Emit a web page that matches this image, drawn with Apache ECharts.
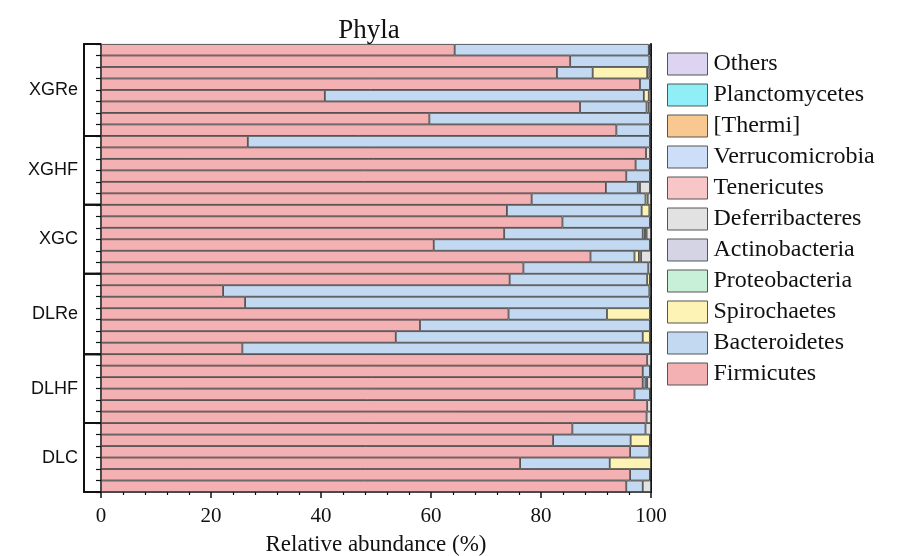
<!DOCTYPE html>
<html lang="en">
<head>
    <meta charset="UTF-8">
    <title>Phyla</title>
    <script src="https://cdn.jsdelivr.net/npm/echarts@6/dist/echarts.min.js"></script>
    <style>
        html, body { margin: 0; padding: 0; background: #fff; }
        #chart { width: 901px; height: 556px; }
    </style>
</head>
<body>
    <div id="chart"></div>
    <script>
        // sample groups, top to bottom
        var groups = ['XGRe', 'XGHF', 'XGC', 'DLRe', 'DLHF', 'DLC'];
        var groupSizes = [8, 6, 6, 7, 6, 6];

        // phyla, in stacking order (left to right)
        var phyla = ['Firmicutes', 'Bacteroidetes', 'Spirochaetes', 'Proteobacteria', 'Actinobacteria',
            'Deferribacteres', 'Tenericutes', 'Verrucomicrobia', '[Thermi]', 'Planctomycetes', 'Others'];
        var colors = ['#f3b1b3', '#c3d9f1', '#fdf3b4', '#c8f0d8', '#d4d4e4',
            '#e2e2e2', '#f8c6c6', '#cddff8', '#f8c890', '#90eef6', '#dcd4f0'];

        // relative abundance (%) per sample
        var firmicutes = [64.3, 85.3, 82.9, 98.0, 40.7, 87.1, 59.7, 93.7,
            26.7, 99.1, 97.2, 95.5, 91.8, 78.3,
            73.8, 83.9, 73.3, 60.5, 89.0, 76.8,
            74.3, 22.2, 26.2, 74.1, 58.0, 53.6, 25.7,
            99.3, 98.5, 98.5, 97.0, 99.3, 99.2,
            85.7, 82.2, 96.2, 76.2, 96.2, 95.5];
        var bacteroidetes = [35.3, 14.4, 6.5, 1.8, 58.0, 12.1, 40.1, 6.1,
            73.1, 0, 2.6, 4.3, 5.8, 20.7,
            24.5, 15.9, 25.2, 39.3, 8.0, 22.7,
            25.0, 77.5, 73.6, 17.9, 41.8, 44.9, 74.1,
            0, 1.3, 0.5, 2.8, 0, 0,
            13.3, 14.1, 3.5, 16.3, 3.6, 3.0];
        var spirochaetes = [0, 0, 9.9, 0, 0.9, 0.4, 0, 0,
            0, 0, 0, 0, 0, 0.4,
            1.4, 0, 0, 0, 0.8, 0,
            0.5, 0, 0, 7.8, 0, 1.3, 0,
            0, 0, 0, 0, 0, 0,
            0, 3.5, 0, 7.5, 0, 0];
        var proteobacteria = [0, 0, 0, 0, 0, 0, 0, 0,
            0, 0, 0, 0, 0, 0,
            0, 0, 0.4, 0, 0, 0,
            0, 0, 0, 0, 0, 0, 0,
            0, 0, 0, 0, 0, 0,
            0, 0, 0, 0, 0, 0];
        var actinobacteria = [0, 0, 0.4, 0, 0, 0, 0, 0,
            0, 0, 0, 0, 0.4, 0,
            0, 0, 0.3, 0, 0.4, 0.5,
            0, 0, 0, 0, 0, 0, 0,
            0, 0, 0.3, 0, 0, 0,
            0, 0, 0, 0, 0, 0];
        var deferribacteres = [0.2, 0.3, 0.3, 0.2, 0.4, 0.4, 0.2, 0.2,
            0.2, 0.7, 0.2, 0.2, 1.8, 0.6,
            0.3, 0.2, 0.8, 0.2, 1.8, 0,
            0.2, 0.3, 0.2, 0.2, 0.2, 0.2, 0.2,
            0.7, 0.2, 0.7, 0.2, 0.7, 0.8,
            1.0, 0.2, 0.3, 0, 0.2, 1.5];
        var tenericutes = new Array(39).fill(0);
        var verrucomicrobia = new Array(39).fill(0);
        var thermi = new Array(39).fill(0);
        var planctomycetes = new Array(39).fill(0);
        var others = [0.2, 0, 0, 0, 0, 0, 0, 0,
            0, 0.2, 0, 0, 0.2, 0,
            0, 0, 0, 0, 0, 0,
            0, 0, 0, 0, 0, 0, 0,
            0, 0, 0, 0, 0, 0,
            0, 0, 0, 0, 0, 0];
        var values = [firmicutes, bacteroidetes, spirochaetes, proteobacteria, actinobacteria,
            deferribacteres, tenericutes, verrucomicrobia, thermi, planctomycetes, others];

        var xTicks = [0, 20, 40, 60, 80, 100];

        var samples = [];
        groups.forEach(function (g, gi) {
            for (var i = 0; i < groupSizes[gi]; i++) samples.push(g + '-' + (i + 1));
        });

        var serif = 'Liberation Serif';
        var sans = 'Liberation Sans';

        var chart = echarts.init(document.getElementById('chart'));

        var series = phyla.map(function (name, i) {
            return {
                name: name,
                type: 'bar',
                stack: 'total',
                barCategoryGap: '0%',
                itemStyle: { color: colors[i], borderColor: '#333', borderWidth: 0.8 },
                emphasis: { disabled: true },
                data: values[i].map(function (v) { return v > 0 ? v : '-'; })
            };
        });

        chart.setOption({
            animation: false,
            title: {
                text: 'Phyla',
                left: 364, top: 12, textAlign: 'center',
                textStyle: { fontFamily: serif, fontSize: 27, fontWeight: 'normal', color: '#111' }
            },
            legend: {
                orient: 'vertical',
                left: 662, top: 47,
                itemWidth: 40, itemHeight: 22, itemGap: 7,
                icon: 'rect',
                data: phyla.slice().reverse(),
                textStyle: { fontFamily: serif, fontSize: 24, color: '#111', padding: [0, 0, 0, 1] },
                itemStyle: { borderColor: '#555', borderWidth: 1 }
            },
            grid: { left: 101, right: 250, top: 44, bottom: 64, outerBoundsMode: 'none', containLabel: false },
            xAxis: {
                type: 'value',
                min: 0, max: 100, interval: 20,
                axisLine: { show: true, lineStyle: { color: '#111', width: 1.5 } },
                axisTick: { show: true, length: 6, lineStyle: { color: '#111', width: 1.5 } },
                minorTick: { show: true, splitNumber: 5, length: 3, lineStyle: { color: '#111', width: 1.2 } },
                splitLine: { show: false },
                axisLabel: {
                    fontFamily: serif, fontSize: 21, color: '#111', margin: 14,
                    formatter: function (v) { return xTicks.indexOf(v) >= 0 ? String(v) : ''; }
                },
                name: 'Relative abundance (%)',
                nameLocation: 'middle',
                nameGap: 41,
                nameTextStyle: { fontFamily: serif, fontSize: 23, color: '#111' }
            },
            yAxis: [{
                type: 'category',
                data: samples,
                inverse: true,
                axisLine: { show: true, lineStyle: { color: '#111', width: 1.5 } },
                axisTick: { show: true, interval: 0, length: 5, lineStyle: { color: '#111', width: 1.2 } },
                axisLabel: { show: false }
            }, {
                type: 'category',
                data: samples,
                inverse: true,
                position: 'right',
                axisLine: { show: true, lineStyle: { color: '#111', width: 2 } },
                axisTick: { show: false },
                axisLabel: { show: false }
            }],
            series: series
        });

        // group brackets and labels, placed through the category axis
        var c0 = chart.convertToPixel({ yAxisIndex: 0 }, 0);
        var c1 = chart.convertToPixel({ yAxisIndex: 0 }, 1);
        var band = c1 - c0;
        var axisX = chart.convertToPixel({ xAxisIndex: 0 }, 0);
        var bx = axisX - 17;
        var elements = [];
        var start = 0;
        groups.forEach(function (g, gi) {
            var end = start + groupSizes[gi] - 1;
            var yTop = chart.convertToPixel({ yAxisIndex: 0 }, start) - band / 2;
            var yBot = chart.convertToPixel({ yAxisIndex: 0 }, end) + band / 2;
            var st = { stroke: '#111', lineWidth: 2 };
            elements.push({ type: 'polyline', shape: { points: [[axisX, yTop], [bx, yTop], [bx, yBot], [axisX, yBot]] }, style: st, silent: true });
            elements.push({
                type: 'text', x: bx - 6, y: (yTop + yBot) / 2,
                style: { text: g, fontFamily: sans, fontSize: 18, fill: '#111', align: 'right', verticalAlign: 'middle' },
                silent: true
            });
            start = end + 1;
        });
        chart.setOption({ graphic: elements });
    </script>
</body>
</html>
